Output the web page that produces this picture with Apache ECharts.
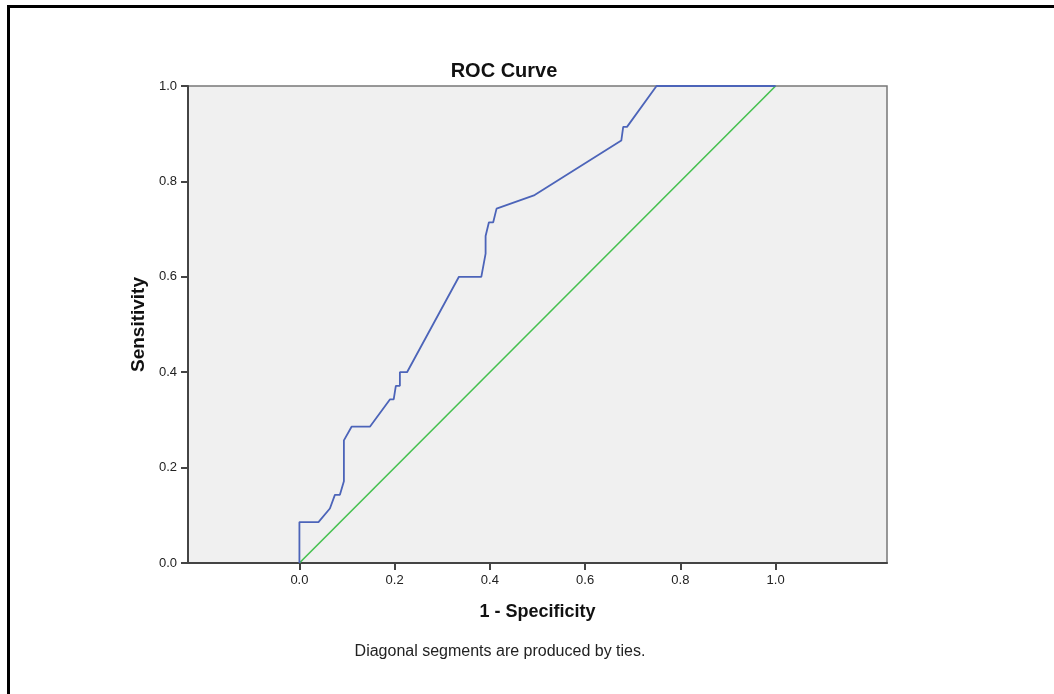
<!DOCTYPE html>
<html>
<head>
<meta charset="utf-8">
<script src="https://cdn.jsdelivr.net/npm/echarts@6/dist/echarts.min.js"></script>
<style>
html,body{margin:0;padding:0;background:#fff;}
#chart{width:1054px;height:694px;}
</style>
</head>
<body>
<div id="chart"></div>
<script>
// ROC curve points (1 - Specificity, Sensitivity)
var fpr = [0, 0, 0.04, 0.064, 0.0745, 0.085, 0.0934, 0.0934, 0.1095, 0.148, 0.19, 0.198, 0.2025, 0.211, 0.211, 0.226, 0.335, 0.382, 0.391, 0.391, 0.398, 0.407, 0.414, 0.494, 0.676, 0.68, 0.68, 0.688, 0.75, 1.0];
var tpr = [0, 0.0857, 0.0857, 0.1143, 0.1429, 0.1429, 0.1714, 0.2571, 0.2857, 0.2857, 0.3429, 0.3429, 0.3714, 0.3714, 0.4, 0.4, 0.6, 0.6, 0.6486, 0.6857, 0.7143, 0.7143, 0.7429, 0.7714, 0.8857, 0.8857, 0.9143, 0.9143, 1.0, 1.0];
// Reference diagonal
var refX = [0, 1];
var refY = [0, 1];
// Tick values
var xTicks = [0, 0.2, 0.4, 0.6, 0.8, 1.0];
var yTicks = [0, 0.2, 0.4, 0.6, 0.8, 1.0];

var rocData = fpr.map(function (x, i) { return [x, tpr[i]]; });
var refData = refX.map(function (x, i) { return [x, refY[i]]; });

var chart = echarts.init(document.getElementById('chart'), null, {renderer: 'canvas'});
var FONT = '"Liberation Sans", Arial, sans-serif';
chart.setOption({
  animation: false,
  backgroundColor: '#ffffff',
  title: [{
    text: 'ROC Curve',
    left: 499, top: 56, textAlign: 'center',
    textStyle: {fontFamily: FONT, fontSize: 20, fontWeight: 'bold', color: '#111'}
  }, {
    text: 'Diagonal segments are produced by ties.',
    left: 495, top: 639, textAlign: 'center',
    textStyle: {fontFamily: FONT, fontSize: 16, fontWeight: 'normal', color: '#222'}
  }],
  graphic: [{
    type: 'rect',
    shape: {x: 8.5, y: 6.5, width: 1200, height: 800},
    style: {fill: null, stroke: '#000', lineWidth: 3},
    silent: true
  }],
  grid: {
    left: 188, right: 167, top: 86, bottom: 131,
    show: true, backgroundColor: '#f0f0f0', borderColor: '#777', borderWidth: 1.5
  },
  xAxis: {
    type: 'value', min: -0.234, max: 1.234,
    name: '1 - Specificity', nameLocation: 'middle', nameGap: 40,
    nameTextStyle: {fontFamily: FONT, fontSize: 18, fontWeight: 'bold', color: '#111'},
    axisLine: {show: true, onZero: false, lineStyle: {color: '#444', width: 2}},
    axisTick: {show: true, length: 7, customValues: xTicks, lineStyle: {color: '#444', width: 2}},
    axisLabel: {show: true, margin: 11, customValues: xTicks, fontFamily: FONT, fontSize: 13, color: '#222',
      formatter: function (v) { return v.toFixed(1); }},
    splitLine: {show: false}
  },
  yAxis: {
    type: 'value', min: 0, max: 1, interval: 0.2,
    name: 'Sensitivity', nameLocation: 'middle', nameGap: 40,
    nameTextStyle: {fontFamily: FONT, fontSize: 19, fontWeight: 'bold', color: '#111'},
    axisLine: {show: true, onZero: false, lineStyle: {color: '#444', width: 2}},
    axisTick: {show: true, length: 7, customValues: yTicks, lineStyle: {color: '#444', width: 2}},
    axisLabel: {show: true, margin: 11, customValues: yTicks, fontFamily: FONT, fontSize: 13, color: '#222',
      formatter: function (v) { return v.toFixed(1); }},
    splitLine: {show: false}
  },
  series: [{
    type: 'line', data: refData, showSymbol: false, symbol: 'none',
    lineStyle: {color: '#45c04f', width: 1.6}, z: 2
  }, {
    type: 'line', data: rocData, showSymbol: false, symbol: 'none',
    lineStyle: {color: '#4c64b9', width: 1.8}, z: 3
  }]
});
</script>
</body>
</html>
